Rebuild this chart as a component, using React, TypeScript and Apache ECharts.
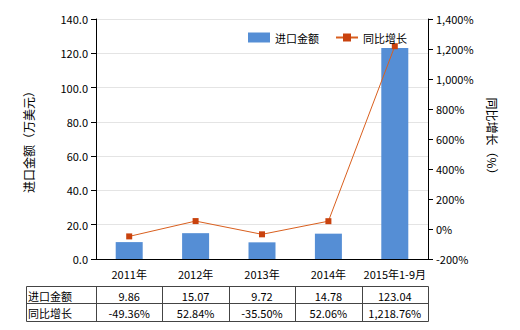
import React, { useEffect, useRef } from "react";
import * as echarts from "echarts";

const categories = ["2011年", "2012年", "2013年", "2014年", "2015年1-9月"];
const importValues = [9.86, 15.07, 9.72, 14.78, 123.04];
const growthValues = [-49.36, 52.84, -35.5, 52.06, 1218.76];
const importLabels = ["9.86", "15.07", "9.72", "14.78", "123.04"];
const growthLabels = ["-49.36%", "52.84%", "-35.50%", "52.06%", "1,218.76%"];
const rowNames = ["进口金额", "同比增长"];

const FONT = "'Noto Sans CJK SC', 'Microsoft YaHei', sans-serif";

export default function App() {
  const ref = useRef<HTMLDivElement>(null);
  useEffect(() => {
    const chart = echarts.init(ref.current!, null, { renderer: "svg" });
    const gl = 96, gr = 428, tTop = 286, tMid = 303, tBot = 321, tLeft = 26;
    const colW = (gr - gl) / categories.length;
    const graphics: any[] = [];
    const lineStyle = { stroke: "#444", lineWidth: 1 };
    graphics.push({ type: "rect", shape: { x: tLeft + 0.5, y: tTop + 0.5, width: gr - tLeft, height: tBot - tTop }, style: { fill: "none", ...lineStyle } });
    graphics.push({ type: "line", shape: { x1: tLeft, y1: tMid + 0.5, x2: gr, y2: tMid + 0.5 }, style: lineStyle });
    for (let i = 0; i < categories.length; i++) {
      const x = Math.round(gl + i * colW) + 0.5;
      graphics.push({ type: "line", shape: { x1: x, y1: tTop, x2: x, y2: tBot }, style: lineStyle });
    }
    const rows = [importLabels, growthLabels];
    rows.forEach((row, r) => {
      const cy = r === 0 ? (tTop + tMid) / 2 + 1 : (tMid + tBot) / 2 + 1;
      graphics.push({ type: "text", x: tLeft + 2, y: cy, style: { text: rowNames[r], font: `11px ${FONT}`, fill: "#000", verticalAlign: "middle", align: "left" } });
      row.forEach((t, i) => {
        graphics.push({ type: "text", x: gl + (i + 0.5) * colW, y: cy, style: { text: t, font: `11px ${FONT}`, fill: "#000", verticalAlign: "middle", align: "center" } });
      });
    });
    chart.setOption({
      animation: false,
      textStyle: { fontFamily: FONT },
      grid: { left: gl, right: 520 - gr, top: 19, bottom: 330 - 259 },
      legend: {
        top: 27, left: 243, itemWidth: 22, itemHeight: 10, itemGap: 16,
        textStyle: { fontSize: 11, color: "#000", fontFamily: FONT },
        data: [{ name: "进口金额", icon: "rect" }, { name: "同比增长" }],
      },
      xAxis: {
        type: "category", data: categories,
        axisLine: { lineStyle: { color: "#000" } },
        axisTick: { alignWithLabel: true, lineStyle: { color: "#000" } },
        axisLabel: { color: "#000", fontSize: 11, margin: 9, interval: 0 },
      },
      yAxis: [
        {
          type: "value", min: 0, max: 140, interval: 20,
          name: "进口金额（万美元）", nameLocation: "middle", nameGap: 62, nameRotate: 90,
          nameTextStyle: { fontSize: 12, color: "#000" },
          axisLine: { show: true, lineStyle: { color: "#000" } },
          axisTick: { show: true, lineStyle: { color: "#000" } },
          axisLabel: { color: "#000", fontSize: 11, formatter: (v: number) => v.toFixed(1) },
          splitLine: { lineStyle: { color: "#e4e4e4" } },
        },
        {
          type: "value", min: -200, max: 1400, interval: 200,
          name: "同比增长（%）", nameLocation: "middle", nameGap: 58, nameRotate: -90,
          nameTextStyle: { fontSize: 12, color: "#000" },
          axisLine: { show: true, lineStyle: { color: "#000" } },
          axisTick: { show: true, lineStyle: { color: "#000" } },
          axisLabel: { color: "#000", fontSize: 11, formatter: (v: number) => v.toLocaleString("en-US") + "%" },
          splitLine: { show: false },
        },
      ],
      series: [
        { name: "进口金额", type: "bar", data: importValues, barWidth: 27, itemStyle: { color: "#558ED5" } },
        {
          name: "同比增长", type: "line", yAxisIndex: 1, data: growthValues,
          symbol: "rect", symbolSize: 6,
          lineStyle: { color: "#D95F1E", width: 1 }, itemStyle: { color: "#C9420E" },
        },
      ],
      graphic: graphics,
    });
    return () => chart.dispose();
  }, []);
  return <div ref={ref} style={{ width: 520, height: 330, position: "absolute", left: 0, top: 0 }} />;
}
